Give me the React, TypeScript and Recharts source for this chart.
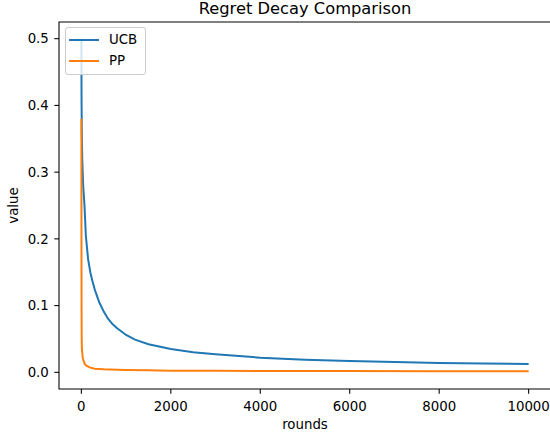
import {
  Legend,
  Line,
  LineChart,
  ReferenceArea,
  XAxis,
  YAxis,
} from "recharts";

// rounds / regret
const ucbRounds = [1, 2, 5, 10, 20, 40, 70, 100, 150, 200, 250, 300, 400, 500, 600, 700, 800, 1000, 1200, 1500, 2000, 2500, 3000, 4000, 5000, 6000, 7000, 8000, 9000, 10000];
const ucbRegret = [0.5, 0.45, 0.4, 0.36, 0.32, 0.28, 0.25, 0.205, 0.17, 0.15, 0.136, 0.124, 0.105, 0.091, 0.08, 0.072, 0.066, 0.056, 0.049, 0.042, 0.035, 0.03, 0.027, 0.022, 0.019, 0.017, 0.0155, 0.014, 0.0131, 0.0124];

const ppRounds = [1, 2, 3, 5, 8, 12, 20, 30, 50, 80, 120, 200, 300, 500, 800, 1000, 1500, 2000, 3000, 4000, 6000, 8000, 10000];
const ppRegret = [0.38, 0.25, 0.16, 0.09, 0.05, 0.035, 0.03, 0.022, 0.017, 0.012, 0.0095, 0.007, 0.0055, 0.0045, 0.0038, 0.0035, 0.003, 0.0025, 0.0022, 0.002, 0.0018, 0.0016, 0.0015];

const seriesNames = ["UCB", "PP"];
const xTicks = [0, 2000, 4000, 6000, 8000, 10000];
const yTicks = [0, 0.1, 0.2, 0.3, 0.4, 0.5];

const ucbData = ucbRounds.map((r, i) => ({ round: r, value: ucbRegret[i] }));
const ppData = ppRounds.map((r, i) => ({ round: r, value: ppRegret[i] }));

const FONT = 13.33;

const renderLegend = (props: any) => {
  // keep plotting order (recharts sorts by name otherwise)
  const items = [...(props.payload || [])].sort(
    (a: any, b: any) => seriesNames.indexOf(a.value) - seriesNames.indexOf(b.value)
  );
  return (
    <div
      style={{
        width: 81,
        boxSizing: "border-box",
        border: "1px solid #cccccc",
        borderRadius: 3,
        background: "rgba(255,255,255,0.8)",
        paddingTop: 1,
        paddingBottom: 3,
      }}
    >
      {items.map((entry: any) => (
        <div
          key={entry.value}
          style={{ display: "flex", alignItems: "center", height: 21 }}
        >
          <span
            style={{
              display: "inline-block",
              marginLeft: 3,
              width: 30,
              height: 2,
              background: entry.color,
            }}
          />
          <span style={{ marginLeft: 10, fontSize: FONT, color: "#000" }}>
            {entry.value}
          </span>
        </div>
      ))}
    </div>
  );
};

export default function App() {
  return (
    <div
      style={{
        position: "absolute",
        left: 0,
        top: 0,
        width: 550,
        height: 438,
        overflow: "hidden",
        background: "#fff",
        fontFamily: "'DejaVu Sans', sans-serif",
      }}
    >
      <div
        style={{
          position: "absolute",
          left: 0,
          top: 1,
          width: 610,
          textAlign: "center",
          fontSize: 16.3,
          lineHeight: "16px",
          color: "#000",
          zIndex: 2,
        }}
      >
        Regret Decay Comparison
      </div>
      <LineChart
        width={560}
        height={438}
        margin={{ top: 22, right: 9, bottom: 0, left: 0 }}
      >
        <XAxis
          dataKey="round"
          type="number"
          domain={[-500, 10500]}
          ticks={xTicks}
          allowDataOverflow
          height={49}
          axisLine={false}
          tickSize={4.67}
          tickMargin={7.8}
          tickLine={{ stroke: "#000", strokeWidth: 1.07 }}
          tick={{ fill: "#000", fontSize: FONT }}
          label={(p: any) => {
            const vb = p.viewBox || { x: 59, y: 389, width: 492, height: 49 };
            return (
              <text
                x={vb.x + vb.width / 2}
                y={vb.y + 39.5}
                textAnchor="middle"
                fontSize={FONT}
                fill="#000"
              >
                rounds
              </text>
            );
          }}
        />
        <YAxis
          type="number"
          domain={[-0.025, 0.525]}
          ticks={yTicks}
          allowDataOverflow
          width={59}
          axisLine={false}
          tickSize={4.67}
          tickMargin={5.5}
          tickLine={{ stroke: "#000", strokeWidth: 1.07 }}
          tick={{ fill: "#000", fontSize: FONT }}
          tickFormatter={(v: number) => v.toFixed(1)}
          label={(p: any) => {
            const vb = p.viewBox || { x: 0, y: 22, width: 59, height: 367 };
            const cy = vb.y + vb.height / 2;
            return (
              <text
                x={17.5}
                y={cy}
                transform={`rotate(-90 17.5 ${cy})`}
                textAnchor="middle"
                fontSize={FONT}
                fill="#000"
              >
                value
              </text>
            );
          }}
        />
        <ReferenceArea
          x1={-500}
          x2={10500}
          y1={-0.025}
          y2={0.525}
          fill="none"
          stroke="#000"
          strokeWidth={1.07}
        />
        <Line
          data={ucbData}
          dataKey="value"
          name="UCB"
          type="linear"
          stroke="#1f77b4"
          strokeWidth={2}
          dot={false}
          isAnimationActive={false}
        />
        <Line
          data={ppData}
          dataKey="value"
          name="PP"
          type="linear"
          stroke="#ff7f0e"
          strokeWidth={2}
          dot={false}
          isAnimationActive={false}
        />
        <Legend
          layout="vertical"
          align="center"
          verticalAlign="middle"
          content={renderLegend}
          wrapperStyle={{ left: 65, top: 27, right: "auto", bottom: "auto", width: "auto" }}
        />
      </LineChart>
    </div>
  );
}
